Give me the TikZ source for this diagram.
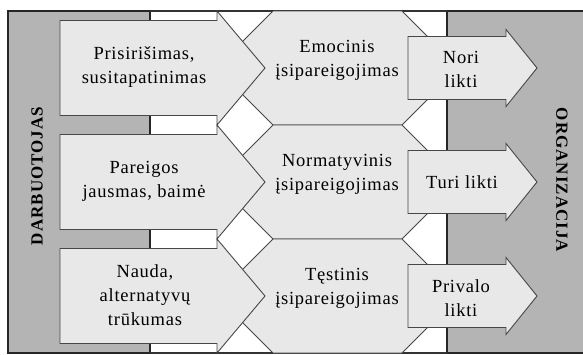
\documentclass[tikz,border=0pt]{standalone}
\usepackage{fontspec}
\setmainfont{Liberation Serif}
\newfontfamily\lblfont[LetterSpace=4]{Liberation Serif}
\newfontfamily\sidefont[LetterSpace=6]{Liberation Serif}
\begin{document}
\begin{tikzpicture}[x=1pt,y=-1pt,
  panelfill/.style={fill=panelgray},
  panelline/.style={draw=black!85,line width=2pt},
  shapebox/.style={fill=shapegray,draw=black!72,line width=0.9pt,line join=miter},
  lbl/.style={align=center,font=\lblfont\fontsize{18.5}{24}\selectfont,inner sep=0pt},
  sidelbl/.style={font=\sidefont\bfseries\fontsize{17}{20}\selectfont,inner sep=0pt}]
\definecolor{panelgray}{RGB}{180,180,180}
\definecolor{shapegray}{RGB}{232,232,232}
\useasboundingbox (0,0) rectangle (583,354);
\fill[white] (0,0) rectangle (583,354);

% side panels: employee (left) and organisation (right)
\fill[panelfill] (8,11) rectangle (150,353);
\draw[panelline] (8,11) rectangle (150,353);
\fill[panelfill] (447,11) rectangle (583,353);
\draw[panelline] (583,11) -- (447,11) -- (447,353) -- (583,353);
\draw[line width=1.2pt,black!80] (150,11) -- (447,11);
\draw[line width=1.2pt,black!80] (150,353) -- (447,353);

% three rows: commitment type (middle), source (left arrow), outcome (right arrow)
\foreach \c in {68,182,296}{
  \draw[shapebox] (273,\c-57) -- (402,\c-57) -- (459,\c) -- (402,\c+57)
    -- (273,\c+57) -- (216,\c) -- cycle;
}
\foreach \c in {68,182,296}{
  \draw[shapebox] (60,\c-47.5) -- (217,\c-47.5) -- (217,\c-57) -- (265,\c)
    -- (217,\c+57) -- (217,\c+47.5) -- (60,\c+47.5) -- cycle;
}
\foreach \c in {68,182,296}{
  \draw[shapebox] (408,\c-31.5) -- (506,\c-31.5) -- (506,\c-38.5) -- (537,\c)
    -- (506,\c+38.5) -- (506,\c+31.5) -- (408,\c+31.5) -- cycle;
}

% left column texts
\node[lbl] (src1) at (144,67) {Prisirišimas,\\susitapatinimas};
\node[lbl] (src2) at (144,181) {Pareigos\\jausmas, baimė};
\node[lbl] (src3) at (145,295) {Nauda,\\alternatyvų\\trūkumas};

% middle column texts
\node[lbl] (com1) at (337,60) {Emocinis\\įsipareigojimas};
\node[lbl] (com2) at (337,174) {Normatyvinis\\įsipareigojimas};
\node[lbl] (com3) at (337,288) {Tęstinis\\įsipareigojimas};

% right column texts
\node[lbl] (out1) at (461,69) {Nori\\likti};
\node[lbl] (out2) at (462,182) {Turi likti};
\node[lbl] (out3) at (461,298) {Privalo\\likti};

% panel titles
\node[sidelbl,rotate=90] (emp) at (37,176) {DARBUOTOJAS};
\node[sidelbl,rotate=-90] (org) at (562,180) {ORGANIZACIJA};
\end{tikzpicture}
\end{document}
